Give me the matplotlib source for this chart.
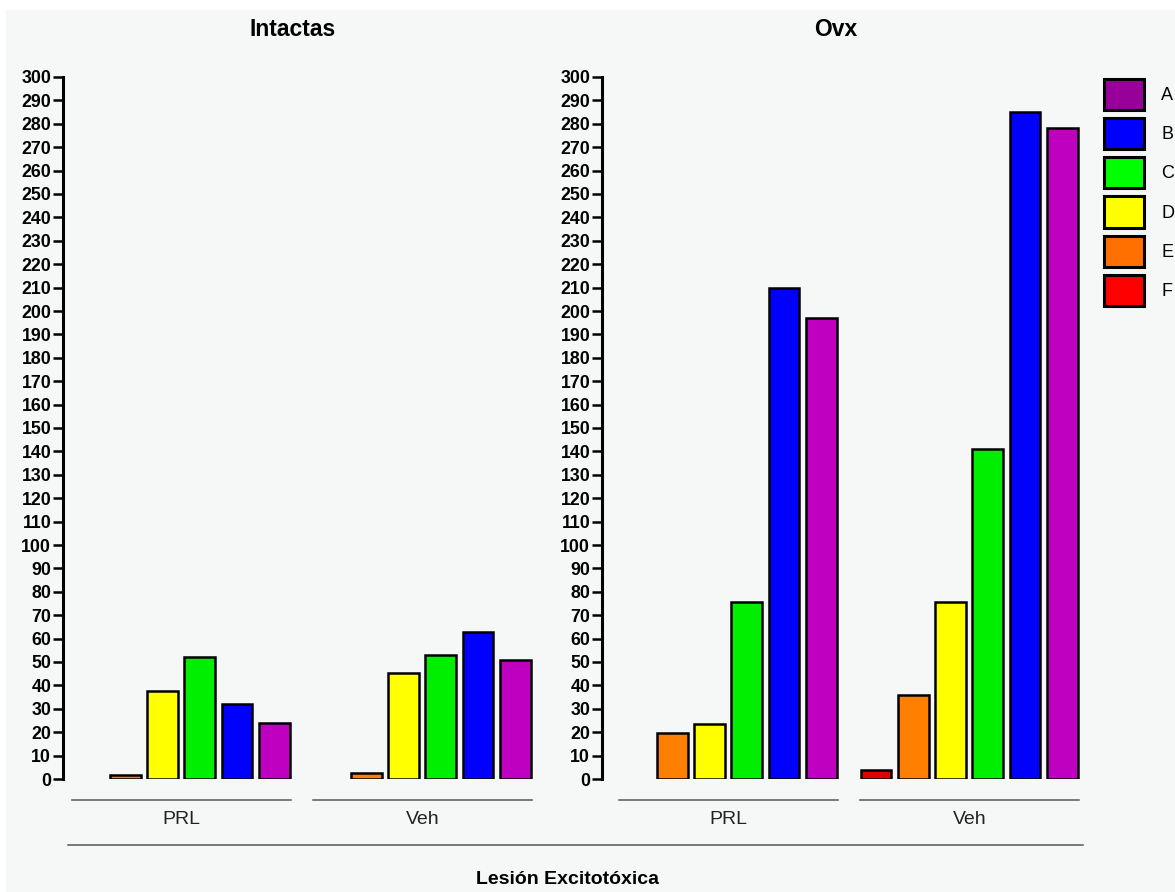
"""
Barras agrupadas: Intactas / Ovx, grupos PRL y Veh, series A-F
"""
import numpy as np
import matplotlib.pyplot as plt
from matplotlib.patches import Patch, Rectangle
from matplotlib.lines import Line2D

# Données
panels = ["Intactas", "Ovx"]
groups = ["PRL", "Veh"]
series = ["A", "B", "C", "D", "E", "F"]
# valeurs par série : [Intactas PRL, Intactas Veh, Ovx PRL, Ovx Veh]
A = [24, 51, 197, 278]
B = [32, 63, 210, 285]
C = [52, 53, 75.5, 141]
D = [37.5, 45.5, 23.5, 75.5]
E = [1.5, 2.7, 19.5, 36]
F = [0, 0, 0, 3.8]
values = [A, B, C, D, E, F]
yticks = list(range(0, 301, 10))
xlabel = "Lesión Excitotóxica"

bar_colors = ["#c000c0", "#0000ff", "#00ee00", "#ffff00", "#ff8000", "#e00000"]
legend_colors = ["#99009a", "#0000ff", "#00ff00", "#ffff00", "#ff7000", "#ff0000"]
bg = "#f5f8f6"

W, H = 1175, 892
fig = plt.figure(figsize=(W / 100, H / 100), dpi=100)
fig.patch.set_facecolor("white")
fig.add_artist(Rectangle((6 / W, 0), 1, 1 - 10 / H, transform=fig.transFigure,
                         facecolor=bg, edgecolor="none", zorder=-10))

tick_font = dict(family="Liberation Sans", weight="bold", size=12.8)


def px_x(x):
    return x / W


def px_y(y):
    return 1 - y / H


pitch = 37.25
veh_offset = 6.47
# (spine px, right px, slot0 center px) pour chaque panneau
geom = [(63, 545, 88), (602, 1085, 635)]
y0, y300 = 779, 77

for p, panel in enumerate(panels):
    left, right, c0 = geom[p]
    ax = fig.add_axes([px_x(left), px_y(y0), (right - left) / W, (y0 - y300) / H])
    ax.set_facecolor("none")
    ax.set_xlim((left - c0) / pitch, (right - c0) / pitch)
    ax.set_ylim(0, 300)
    for g in range(len(groups)):
        col = p * 2 + g
        for s in range(len(series)):
            v = values[s][col]
            if v <= 0:
                continue
            x = g * veh_offset + (5 - s)
            ax.bar(x, v, width=0.83, color=bar_colors[s], edgecolor="black",
                   linewidth=1.8, zorder=3)
        # ligne et étiquette du groupe
        xa = g * veh_offset - 0.42
        xb = g * veh_offset + 5.45
        ax.plot([xa, xb], [-21 / 702, -21 / 702], color="#555555", lw=1.1,
                transform=ax.get_xaxis_transform(), clip_on=False)
        ax.text((xa + xb) / 2, -41 / 702, groups[g], transform=ax.get_xaxis_transform(),
                ha="center", va="center", fontsize=14, color="#222222",
                family="Liberation Sans")
    for sp in ["top", "right", "bottom"]:
        ax.spines[sp].set_visible(False)
    ax.spines["left"].set_linewidth(2.2)
    ax.set_yticks(yticks)
    ax.set_yticklabels([str(t) for t in yticks], fontdict=tick_font)
    ax.tick_params(axis="y", length=7, width=1.8, pad=1.5)
    ax.set_xticks([])

fig.text(px_x(293), px_y(30), panels[0], ha="center", va="center",
         fontsize=16.5, fontweight="bold", family="Liberation Sans")
fig.text(px_x(836), px_y(30), panels[1], ha="center", va="center",
         fontsize=16.5, fontweight="bold", family="Liberation Sans")

fig.add_artist(Line2D([px_x(68), px_x(1083)], [px_y(845), px_y(845)],
                      color="#555555", lw=1.1, transform=fig.transFigure))
fig.text(px_x(567), px_y(880), xlabel, ha="center", va="center",
         fontsize=14, fontweight="bold", family="Liberation Sans")

handles = [Patch(facecolor=legend_colors[i], edgecolor="black", linewidth=2.2)
           for i in range(len(series))]
fig.legend(handles, series, loc="upper left", bbox_to_anchor=(px_x(1091), px_y(66)),
           frameon=False, handlelength=2.26, handleheight=2.29,
           labelspacing=0.44, handletextpad=0.92, borderpad=0.2,
           prop={"family": "Liberation Sans", "size": 13})

fig.savefig("out.png", dpi=100, facecolor=fig.get_facecolor())
